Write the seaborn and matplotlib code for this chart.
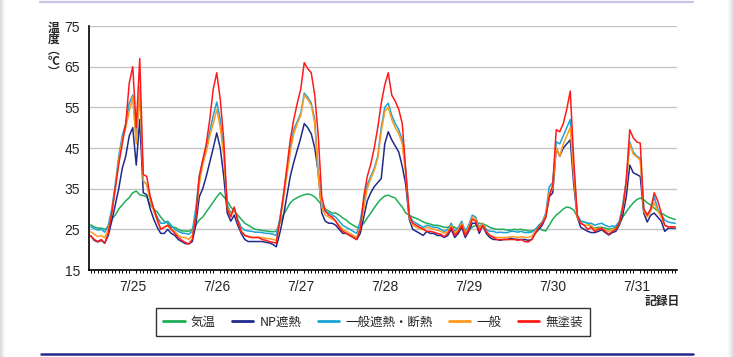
import matplotlib

matplotlib.use("Agg")
import matplotlib.pyplot as plt
import numpy as np
import pandas as pd
import seaborn as sns
from matplotlib.lines import Line2D
from matplotlib.patches import Rectangle


SERIES = ["気温", "NP遮熱", "一般遮熱・断熱", "一般", "無塗装"]
COLORS = ["#1fae55", "#1f2a8c", "#1aa3d9", "#ff9a1c", "#ff1a1a"]
DAYS = ["7/25", "7/26", "7/27", "7/28", "7/29", "7/30", "7/31"]

# hourly readings, one row per day (7/25 .. 7/31)
air_temp = [
    26.1, 25.6, 25.3, 25.3, 25.0, 25.5, 27.5, 28.5, 30.0, 31.0, 32.0, 32.8, 34.0, 34.4, 33.5, 33.3, 33.0, 31.0, 30.0, 29.3, 28.0, 27.0, 26.5, 25.5,
    25.5, 25.0, 24.6, 24.6, 24.5, 25.0, 26.0, 27.3, 28.0, 29.3, 30.5, 31.7, 33.0, 34.0, 33.0, 32.0, 30.5, 29.5, 28.5, 27.5, 26.5, 26.0, 25.5, 25.0,
    24.9, 24.7, 24.6, 24.5, 24.4, 24.5, 26.5, 28.5, 30.0, 31.5, 32.3, 32.8, 33.2, 33.5, 33.7, 33.5, 33.0, 32.0, 31.0, 30.0, 29.5, 29.0, 29.0, 28.5,
    27.8, 27.3, 26.5, 26.0, 25.5, 25.5, 26.5, 27.8, 29.0, 30.3, 31.5, 32.5, 33.2, 33.4, 33.0, 32.7, 31.5, 30.5, 29.0, 28.5, 28.0, 27.7, 27.3, 26.8,
    26.5, 26.3, 26.0, 26.0, 25.8, 25.5, 25.5, 25.8, 25.5, 25.0, 25.3, 25.0, 25.0, 25.5, 26.0, 26.5, 26.3, 26.0, 25.5, 25.2, 25.0, 25.0, 25.0, 24.8,
    24.8, 25.0, 24.9, 25.0, 24.8, 24.6, 24.6, 24.9, 25.5, 24.8, 24.6, 26.0, 27.5, 28.5, 29.2, 30.0, 30.5, 30.3, 29.7, 28.2, 27.0, 26.8, 26.5, 25.5,
    25.3, 25.5, 25.5, 25.3, 25.0, 25.2, 25.5, 26.3, 28.0, 29.3, 30.5, 31.5, 32.3, 32.7, 32.3, 31.5, 31.0, 30.2, 29.5, 29.0, 28.5, 28.0, 27.7, 27.4,
]
np_shield = [
    23.4, 22.3, 21.9, 22.3, 21.6, 23.5, 27.0, 31.0, 35.0, 40.0, 43.0, 48.0, 50.0, 40.8, 52.0, 34.0, 33.5, 30.0, 27.5, 25.5, 24.0, 24.0, 25.0, 24.0,
    23.5, 22.5, 22.0, 21.5, 21.4, 22.0, 26.0, 33.0, 35.0, 38.0, 41.5, 45.0, 48.7, 45.0, 38.0, 29.0, 27.0, 28.5, 26.0, 24.0, 22.5, 22.0, 22.0, 22.0,
    22.0, 22.0, 21.8, 21.7, 21.3, 20.7, 24.0, 28.0, 33.0, 38.0, 41.5, 44.5, 47.5, 51.0, 50.0, 48.5, 45.0, 39.0, 29.0, 27.0, 26.5, 26.5, 26.0, 25.0,
    24.0, 24.0, 23.5, 23.0, 22.5, 24.0, 28.0, 32.0, 34.0, 35.5, 36.5, 37.5, 46.0, 49.0, 47.0, 45.5, 44.0, 40.5, 36.0, 27.5, 25.0, 24.5, 24.0, 23.5,
    24.5, 24.0, 24.0, 23.5, 23.5, 23.0, 23.5, 25.0, 23.0, 24.0, 25.5, 23.0, 24.5, 26.5, 26.5, 24.0, 26.0, 24.0, 23.0, 22.5, 22.5, 22.3, 22.5, 22.5,
    22.8, 22.6, 22.5, 22.5, 22.5, 22.3, 22.5, 24.0, 25.0, 26.0, 28.0, 33.0, 34.0, 45.0, 43.0, 45.0, 46.0, 47.0, 36.0, 28.0, 25.5, 25.0, 24.5, 24.2,
    24.2, 24.5, 24.9, 24.2, 23.6, 24.2, 24.5, 26.0, 28.5, 33.0, 40.8, 38.9, 38.5, 38.0, 29.0, 26.8, 28.5, 29.0, 28.0, 27.0, 24.5, 25.3, 25.3, 25.3,
]
gen_shield_ins = [
    25.6, 25.2, 24.8, 25.0, 24.3, 26.0, 30.0, 36.0, 43.0, 48.0, 51.0, 56.0, 58.0, 47.0, 58.5, 37.0, 36.0, 33.0, 30.0, 28.0, 26.5, 26.5, 27.0, 26.0,
    25.0, 24.5, 24.1, 24.0, 23.8, 24.5, 30.0, 38.0, 42.0, 45.0, 49.0, 53.0, 56.3, 52.0, 44.0, 31.0, 29.0, 30.0, 27.5, 25.5, 24.8, 24.6, 24.5, 24.3,
    24.3, 24.2, 24.0, 24.0, 23.8, 23.5, 27.5, 33.0, 39.0, 45.0, 49.5, 51.5, 53.5, 58.5, 57.5, 56.0, 52.0, 39.0, 31.0, 29.5, 29.0, 28.5, 28.0, 27.0,
    26.0, 25.5, 25.0, 24.5, 24.0, 27.0, 32.0, 36.0, 38.0, 40.0, 43.0, 50.0, 55.0, 56.0, 53.0, 51.0, 49.5, 47.0, 39.5, 28.5, 27.0, 26.5, 26.0, 25.5,
    26.0, 25.8, 25.5, 25.5, 25.0, 24.5, 25.0, 26.5, 24.5, 25.5, 27.0, 24.5, 26.0, 28.5, 28.0, 25.5, 26.5, 25.0, 24.5, 24.5, 24.2, 24.3, 24.2, 24.2,
    24.5, 24.5, 24.3, 24.5, 24.2, 24.2, 24.3, 25.0, 26.0, 26.8, 29.0, 35.5, 36.5, 46.5, 46.0, 48.0, 50.0, 52.0, 40.0, 28.5, 27.0, 26.8, 26.5, 26.5,
    26.0, 26.3, 26.5, 26.0, 25.6, 25.8, 25.8, 27.0, 31.0, 37.0, 46.5, 44.0, 43.0, 42.5, 30.0, 28.5, 30.0, 33.0, 30.0, 28.5, 27.3, 26.8, 26.6, 26.5,
]
general = [
    24.4, 23.8, 23.2, 23.5, 22.9, 25.0, 29.0, 35.0, 42.0, 47.0, 50.0, 54.0, 57.5, 46.0, 60.0, 37.0, 36.0, 32.0, 29.5, 27.0, 25.0, 25.5, 26.0, 25.0,
    24.5, 23.5, 23.0, 23.0, 22.5, 23.5, 28.0, 36.0, 41.0, 44.0, 48.0, 51.0, 54.5, 50.0, 43.0, 30.5, 28.5, 30.0, 27.0, 24.5, 23.5, 23.3, 23.0, 23.0,
    23.0, 23.0, 22.8, 22.7, 22.5, 22.3, 26.5, 32.0, 38.0, 44.0, 48.5, 51.0, 53.0, 58.0, 57.0, 55.5, 51.0, 38.0, 30.5, 28.5, 28.0, 27.5, 27.0, 26.0,
    25.0, 24.5, 24.0, 23.5, 23.0, 25.5, 30.0, 35.0, 37.5, 39.5, 42.5, 49.0, 54.0, 55.0, 52.0, 50.0, 48.5, 46.0, 38.5, 28.0, 26.0, 25.5, 25.2, 25.0,
    25.5, 25.3, 25.0, 24.8, 24.5, 24.0, 24.5, 26.0, 24.0, 25.0, 26.5, 24.0, 25.5, 28.0, 27.5, 25.0, 26.5, 24.5, 23.5, 23.2, 23.0, 23.0, 23.0, 23.0,
    23.2, 23.2, 23.0, 23.2, 23.0, 23.0, 23.3, 24.5, 25.5, 26.5, 28.5, 34.0, 35.0, 45.0, 43.0, 46.0, 48.0, 50.0, 38.0, 28.0, 26.5, 26.0, 26.0, 26.0,
    25.0, 25.2, 25.3, 24.8, 24.5, 25.0, 25.0, 26.5, 30.0, 36.0, 46.0, 43.5, 42.8, 42.0, 29.5, 28.0, 29.5, 31.5, 29.5, 28.0, 26.0, 25.6, 25.6, 25.5,
]
uncoated = [
    23.4, 22.5, 22.0, 22.5, 21.6, 24.0, 29.0, 35.0, 41.0, 46.0, 51.0, 61.0, 65.0, 50.0, 67.0, 38.5, 38.0, 33.0, 30.0, 27.5, 25.0, 25.5, 26.0, 25.0,
    24.0, 23.0, 22.3, 21.8, 21.4, 22.5, 28.0, 38.0, 42.0, 46.0, 52.0, 59.5, 63.5, 57.0, 47.0, 30.0, 28.0, 30.5, 27.0, 24.5, 23.5, 23.2, 23.0, 23.0,
    23.0, 22.5, 22.3, 22.0, 21.8, 21.6, 27.0, 33.0, 40.0, 47.0, 52.0, 56.0, 59.5, 66.0, 64.5, 63.5, 58.0, 48.0, 33.0, 29.5, 28.5, 28.0, 27.0, 25.5,
    24.5, 24.0, 23.5, 23.0, 22.5, 25.0, 33.0, 38.0, 41.0, 45.0, 50.0, 56.0, 60.5, 63.5, 58.0, 56.5, 54.5, 51.0, 39.5, 28.5, 26.5, 26.0, 25.5, 25.0,
    24.5, 24.5, 24.3, 24.0, 23.8, 23.2, 24.0, 25.5, 23.5, 24.5, 26.0, 23.5, 25.0, 27.5, 27.0, 24.5, 26.0, 24.5, 23.5, 23.0, 22.5, 22.5, 22.5, 22.5,
    22.5, 22.5, 22.3, 22.5, 22.0, 21.9, 22.5, 24.0, 25.5, 26.5, 28.0, 33.0, 36.0, 49.5, 49.0, 51.0, 54.5, 59.0, 42.0, 28.5, 26.5, 26.0, 25.0, 25.5,
    24.5, 25.0, 25.3, 24.5, 23.8, 24.5, 25.0, 26.5, 30.0, 37.0, 49.5, 47.5, 46.5, 46.2, 30.0, 28.5, 30.0, 34.0, 32.0, 29.0, 26.0, 25.6, 25.6, 25.6,
]

W, H = 734, 357
JP = ["Noto Sans CJK JP", "DejaVu Sans"]


def fx(px):
    return px / W


def fy(py):
    return 1 - py / H


def main() -> None:
    sns.set_theme(style="white", rc={"axes.edgecolor": "black"})
    plt.rcParams["font.family"] = ["Liberation Sans", "Noto Sans CJK JP", "DejaVu Sans"]

    hours = np.arange(len(air_temp))
    values = [air_temp, np_shield, gen_shield_ins, general, uncoated]
    df = pd.DataFrame(
        {
            "hour": np.tile(hours, len(SERIES)),
            "temp": np.concatenate(values),
            "series": np.repeat(SERIES, len(hours)),
        }
    )

    fig = plt.figure(figsize=(W / 100, H / 100), dpi=100)
    fig.patch.set_facecolor("white")
    ax = fig.add_axes([fx(89), fy(270), fx(677) - fx(89), fy(26) - fy(270)])

    sns.lineplot(
        data=df,
        x="hour",
        y="temp",
        hue="series",
        hue_order=SERIES,
        palette=dict(zip(SERIES, COLORS)),
        linewidth=1.1,
        legend=False,
        ax=ax,
    )

    ax.set_xlim(-0.5, len(hours) - 0.5)
    ax.set_ylim(15, 75)
    ax.set_yticks(range(15, 76, 10))
    ax.set_yticklabels([str(v) for v in range(15, 76, 10)], fontsize=10)
    ax.set_xticks([24 * d + 12 for d in range(len(DAYS))])
    ax.set_xticklabels(DAYS, fontsize=10)
    ax.set_xticks(hours, minor=True)
    ax.tick_params(axis="x", which="major", length=0, pad=7)
    ax.tick_params(axis="x", which="minor", length=2.2, width=0.7, color="black", direction="out", bottom=True)
    ax.tick_params(axis="y", length=0, pad=6.5)
    ax.set_xlabel("")
    ax.set_ylabel("")

    ax.grid(True, axis="y", color="#c4c4c4", linewidth=1.0)
    ax.grid(False, axis="x")
    ax.set_axisbelow(True)
    for side in ["top", "right"]:
        ax.spines[side].set_visible(False)
    for side in ["left", "bottom"]:
        ax.spines[side].set_color("black")
        ax.spines[side].set_linewidth(1.2)

    # axis captions (vertical Japanese writing)
    fig.text(fx(54), fy(22), "温\n度\n︵\n℃\n︶", family=JP, fontsize=8.5, fontweight="bold",
             ha="center", va="top", linespacing=0.8)
    fig.text(fx(680), fy(301), "記録日", family=JP, fontsize=8.5, fontweight="bold", ha="right", va="center")

    handles = [Line2D([0], [0], color=c, linewidth=2.0) for c in COLORS]
    leg = fig.legend(
        handles,
        SERIES,
        loc="center",
        bbox_to_anchor=(fx(373), fy(322)),
        bbox_transform=fig.transFigure,
        ncol=5,
        frameon=True,
        fancybox=False,
        framealpha=1,
        edgecolor="#333333",
        prop={"family": JP, "size": 9},
        handlelength=1.7,
        handletextpad=0.5,
        columnspacing=1.3,
        borderpad=0.62,
    )
    leg.get_frame().set_linewidth(1.0)

    # page decorations
    fig.add_artist(Line2D([fx(40), fx(693)], [fy(1.5), fy(1.5)], color="#c6c6e8", linewidth=1.6))
    fig.add_artist(Line2D([fx(41), fx(693)], [fy(354), fy(354)], color="#26268c", linewidth=1.8))
    for i, g in enumerate(["#d9d9d9", "#e3e3e3", "#ececec", "#f3f3f3", "#f8f8f8"]):
        fig.add_artist(Rectangle((fx(i), 0), fx(1), 1, color=g, transform=fig.transFigure, linewidth=0))
    for i, g in enumerate(["#fafafa", "#f3f3f3", "#ececec", "#e6e6e6", "#e0e0e0", "#dadada"]):
        fig.add_artist(Rectangle((fx(728 + i), 0), fx(1), 1, color=g, transform=fig.transFigure, linewidth=0))

    fig.savefig("out.png", dpi=100, facecolor="white")
    plt.close(fig)


if __name__ == "__main__":
    main()
